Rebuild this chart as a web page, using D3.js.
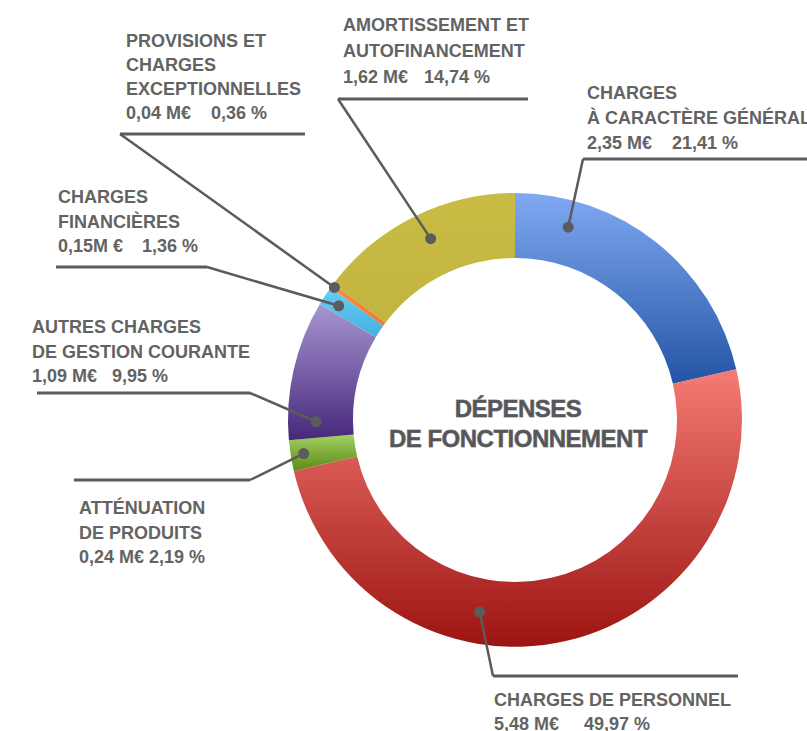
<!DOCTYPE html>
<html><head><meta charset="utf-8">
<script src="https://cdn.jsdelivr.net/npm/d3@7"></script>
<style>body{margin:0;background:#fff;overflow:hidden;} svg{display:block;}</style>
</head><body><svg id="c" width="807" height="731"></svg>
<script>
// ---- data ----
const categories = ["CHARGES À CARACTÈRE GÉNÉRAL","CHARGES DE PERSONNEL","ATTÉNUATION DE PRODUITS","AUTRES CHARGES DE GESTION COURANTE","CHARGES FINANCIÈRES","PROVISIONS ET CHARGES EXCEPTIONNELLES","AMORTISSEMENT ET AUTOFINANCEMENT"];
const percents = [21.41, 49.97, 2.19, 9.95, 1.36, 0.36, 14.74];
const amounts = [2.35, 5.48, 0.24, 1.09, 0.15, 0.04, 1.62];
const units = [" M€", " M€", " M€", " M€", "M €", " M€", " M€"];
const labelLines = [
  ["CHARGES","À CARACTÈRE GÉNÉRAL"],
  ["CHARGES DE PERSONNEL"],
  ["ATTÉNUATION","DE PRODUITS"],
  ["AUTRES CHARGES","DE GESTION COURANTE"],
  ["CHARGES","FINANCIÈRES"],
  ["PROVISIONS ET","CHARGES","EXCEPTIONNELLES"],
  ["AMORTISSEMENT ET","AUTOFINANCEMENT"]
];
const centerTitle = ["DÉPENSES","DE FONCTIONNEMENT"];

// ---- styles / layout ----
const colors = [
  ["#80a9f2","#2354a5"],
  ["#f57b74","#9c1411"],
  ["#a3d160","#5a8a18"],
  ["#a896d2","#46287a"],
  ["#66cff4","#45b0e0"],
  ["#f4924a","#ec7a30"],
  ["#c9bc45","#c2b43e"]
];
const layout = [
  {tx:587, ty:99,  lh:25,   gap:20, ux1:583, ux2:830, uy:159, anchor:"start", dotT:0.2,  dotR:200},
  {tx:494, ty:706, lh:23.5, gap:25, ux1:493, ux2:738, uy:676, anchor:"start", dotT:0.63, dotR:195},
  {tx:79,  ty:514, lh:24.5, gap:5,  ux1:74,  ux2:250, uy:480, anchor:"end",   dotT:0.5,  dotR:214},
  {tx:32,  ty:333, lh:24.5, gap:15, ux1:37,  ux2:250, uy:393, anchor:"end",   dotT:0.13, dotR:199},
  {tx:58,  ty:203, lh:24.5, gap:19, ux1:56,  ux2:207, uy:267, anchor:"end",   dotT:0.45, dotR:210},
  {tx:126, ty:47,  lh:24,   gap:20, ux1:120, ux2:305, uy:134, anchor:"start", dotT:0.5,  dotR:224},
  {tx:343, ty:31,  lh:26,   gap:16, ux1:338, ux2:528, uy:99,  anchor:"start", dotT:0.53, dotR:200}
];
const cx = 515, cy = 420, rOuter = 227, rInner = 162;
const textColor = "#636363", lineColor = "#5b5b5b";
const fmt = v => v.toFixed(2).replace(".", ",");

const svg = d3.select("#c");
const defs = svg.append("defs");
colors.forEach((c, i) => {
  const g = defs.append("linearGradient").attr("id", "g" + i)
    .attr("x1", 0).attr("y1", 0).attr("x2", 0).attr("y2", 1);
  g.append("stop").attr("offset", "0%").attr("stop-color", c[0]);
  g.append("stop").attr("offset", "100%").attr("stop-color", c[1]);
});

const pie = d3.pie().sort(null).value(d => d);
const arcs = pie(percents);
const arc = d3.arc().innerRadius(rInner).outerRadius(rOuter);

const gChart = svg.append("g").attr("transform", `translate(${cx},${cy})`);
gChart.selectAll("path.slice").data(arcs).join("path")
  .attr("class", "slice")
  .attr("d", arc)
  .attr("fill", (d, i) => `url(#g${i})`);

// center title
const title = svg.append("text")
  .attr("x", 518).attr("y", 417)
  .attr("text-anchor", "middle")
  .style("font-family", "'Liberation Sans', Arial, sans-serif")
  .style("font-weight", "bold").style("font-size", "24px")
  .style("letter-spacing", "-0.5px")
  .attr("fill", "#55575b")
  .attr("stroke", "#9a9a9a").attr("stroke-width", 0.8).style("paint-order", "stroke");
title.selectAll("tspan").data(centerTitle).join("tspan")
  .attr("x", 518).attr("dy", (d, i) => i === 0 ? 0 : 30).text(d => d);

// leader lines, dots, labels
const gLab = svg.append("g");
arcs.forEach((a, i) => {
  const L = layout[i];
  const ang = a.startAngle + (a.endAngle - a.startAngle) * L.dotT;
  const p = d3.arc().innerRadius(L.dotR).outerRadius(L.dotR).startAngle(ang).endAngle(ang).centroid();
  const dx = cx + p[0], dy = cy + p[1];
  const ax = L.anchor === "start" ? L.ux1 : L.ux2;
  gLab.append("path")
    .attr("d", d3.line()([[L.ux1, L.uy], [L.ux2, L.uy]]))
    .attr("stroke", lineColor).attr("stroke-width", 3).attr("fill", "none");
  gLab.append("path")
    .attr("d", d3.line()([[ax, L.uy], [dx, dy]]))
    .attr("stroke", lineColor).attr("stroke-width", 2.5).attr("fill", "none");
  gLab.append("circle").attr("cx", dx).attr("cy", dy).attr("r", 5.5).attr("fill", lineColor);

  const t = gLab.append("text")
    .attr("x", L.tx).attr("y", L.ty)
    .style("font-family", "'Liberation Sans', Arial, sans-serif")
    .style("font-weight", "bold").style("font-size", "18px")
    .attr("fill", textColor);
  labelLines[i].forEach((s, k) => {
    t.append("tspan").attr("x", L.tx).attr("y", L.ty + k * L.lh).text(s);
  });
  const vy = L.ty + labelLines[i].length * L.lh;
  t.append("tspan").attr("x", L.tx).attr("y", vy).text(fmt(amounts[i]) + units[i]);
  t.append("tspan").attr("dx", L.gap).text(fmt(percents[i]) + " %");
});
</script>
</body></html>
